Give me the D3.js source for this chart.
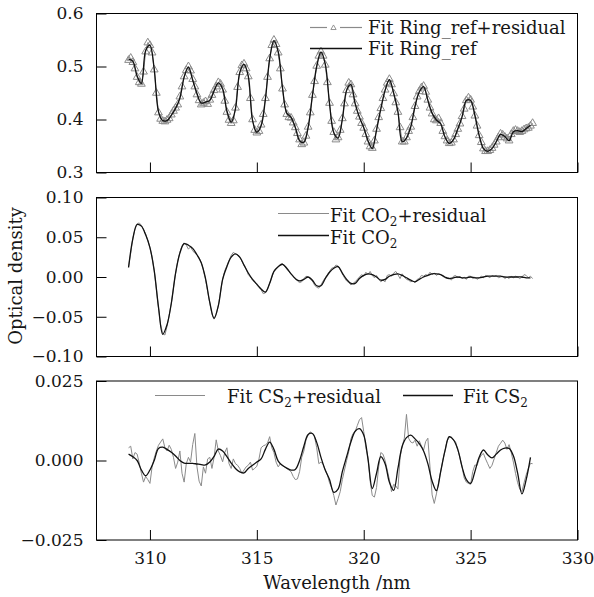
<!DOCTYPE html>
<html>
<head>
<meta charset="utf-8">
<script src="https://cdn.jsdelivr.net/npm/d3@7"></script>
<style>
  body { margin: 0; background: #fff; }
  svg text { font-family: "DejaVu Serif", serif; fill: #161616; }
</style>
</head>
<body>
<svg id="chart" width="594" height="597"></svg>
<script>
// wavelength grids (nm): fine = 0.1 nm steps, coarse = 0.2 nm steps
const wlFine = [
  309.0,309.1,309.2,309.3,309.4,309.5,309.6,309.7,309.8,309.9,
  310.0,310.1,310.2,310.3,310.4,310.5,310.6,310.7,310.8,310.9,
  311.0,311.1,311.2,311.3,311.4,311.5,311.6,311.7,311.8,311.9,
  312.0,312.1,312.2,312.3,312.4,312.5,312.6,312.7,312.8,312.9,
  313.0,313.1,313.2,313.3,313.4,313.5,313.6,313.7,313.8,313.9,
  314.0,314.1,314.2,314.3,314.4,314.5,314.6,314.7,314.8,314.9,
  315.0,315.1,315.2,315.3,315.4,315.5,315.6,315.7,315.8,315.9,
  316.0,316.1,316.2,316.3,316.4,316.5,316.6,316.7,316.8,316.9,
  317.0,317.1,317.2,317.3,317.4,317.5,317.6,317.7,317.8,317.9,
  318.0,318.1,318.2,318.3,318.4,318.5,318.6,318.7,318.8,318.9,
  319.0,319.1,319.2,319.3,319.4,319.5,319.6,319.7,319.8,319.9,
  320.0,320.1,320.2,320.3,320.4,320.5,320.6,320.7,320.8,320.9,
  321.0,321.1,321.2,321.3,321.4,321.5,321.6,321.7,321.8,321.9,
  322.0,322.1,322.2,322.3,322.4,322.5,322.6,322.7,322.8,322.9,
  323.0,323.1,323.2,323.3,323.4,323.5,323.6,323.7,323.8,323.9,
  324.0,324.1,324.2,324.3,324.4,324.5,324.6,324.7,324.8,324.9,
  325.0,325.1,325.2,325.3,325.4,325.5,325.6,325.7,325.8,325.9,
  326.0,326.1,326.2,326.3,326.4,326.5,326.6,326.7,326.8,326.9,
  327.0,327.1,327.2,327.3,327.4,327.5,327.6,327.7,327.8,327.9
];
const wlCoarse = [
  309.0,309.2,309.4,309.6,309.8, 310.0,310.2,310.4,310.6,310.8,
  311.0,311.2,311.4,311.6,311.8, 312.0,312.2,312.4,312.6,312.8,
  313.0,313.2,313.4,313.6,313.8, 314.0,314.2,314.4,314.6,314.8,
  315.0,315.2,315.4,315.6,315.8, 316.0,316.2,316.4,316.6,316.8,
  317.0,317.2,317.4,317.6,317.8, 318.0,318.2,318.4,318.6,318.8,
  319.0,319.2,319.4,319.6,319.8, 320.0,320.2,320.4,320.6,320.8,
  321.0,321.2,321.4,321.6,321.8, 322.0,322.2,322.4,322.6,322.8,
  323.0,323.2,323.4,323.6,323.8, 324.0,324.2,324.4,324.6,324.8,
  325.0,325.2,325.4,325.6,325.8, 326.0,326.2,326.4,326.6,326.8,
  327.0,327.2,327.4,327.6,327.8
];

// --- Ring_ref panel
const ringResid = [
  0.512,0.516,0.508,0.496,0.480,0.470,0.467,0.490,0.528,0.545,
  0.540,0.526,0.494,0.450,0.413,0.401,0.397,0.396,0.399,0.402,
  0.409,0.416,0.422,0.428,0.443,0.462,0.481,0.493,0.500,0.492,
  0.476,0.462,0.447,0.436,0.428,0.431,0.434,0.429,0.437,0.446,
  0.455,0.462,0.470,0.467,0.456,0.435,0.414,0.399,0.393,0.398,
  0.422,0.461,0.489,0.502,0.505,0.496,0.481,0.440,0.400,0.380,
  0.375,0.378,0.390,0.410,0.440,0.480,0.515,0.540,0.550,0.542,
  0.526,0.496,0.458,0.428,0.410,0.404,0.403,0.394,0.385,0.374,
  0.362,0.353,0.356,0.369,0.386,0.413,0.446,0.472,0.501,0.520,
  0.528,0.520,0.503,0.470,0.431,0.397,0.376,0.362,0.366,0.380,
  0.402,0.430,0.455,0.469,0.466,0.447,0.430,0.416,0.405,0.393,
  0.384,0.372,0.358,0.349,0.346,0.360,0.382,0.404,0.421,0.440,
  0.456,0.469,0.476,0.466,0.449,0.432,0.414,0.385,0.358,0.358,
  0.366,0.378,0.386,0.404,0.425,0.443,0.453,0.460,0.463,0.452,
  0.437,0.422,0.411,0.400,0.398,0.402,0.393,0.378,0.368,0.360,
  0.355,0.356,0.362,0.372,0.382,0.392,0.406,0.420,0.436,0.441,
  0.437,0.424,0.407,0.388,0.370,0.357,0.345,0.340,0.340,0.342,
  0.346,0.352,0.358,0.366,0.373,0.371,0.367,0.364,0.360,0.372,
  0.378,0.380,0.378,0.376,0.378,0.381,0.383,0.384,0.388,0.393
];
const ringFit = [
  0.514,0.510,0.482,0.468,0.530, 0.540,0.495,0.415,0.398,0.398,
  0.408,0.421,0.440,0.480,0.499, 0.474,0.449,0.431,0.433,0.436,
  0.454,0.469,0.458,0.416,0.395, 0.420,0.488,0.504,0.482,0.398,
  0.376,0.388,0.438,0.514,0.549, 0.528,0.460,0.412,0.404,0.385,
  0.360,0.357,0.385,0.445,0.500, 0.527,0.505,0.430,0.375,0.365,
  0.400,0.455,0.466,0.430,0.404, 0.385,0.360,0.345,0.380,0.420,
  0.455,0.475,0.450,0.415,0.358, 0.365,0.386,0.425,0.452,0.462,
  0.436,0.412,0.399,0.392,0.367, 0.355,0.362,0.382,0.405,0.436,
  0.436,0.408,0.370,0.345,0.340, 0.345,0.358,0.372,0.368,0.360,
  0.377,0.379,0.377,0.383,0.389
];

// --- CO2 panel
const co2Resid = [
  0.013,0.030,0.049,0.060,0.067,0.068,0.065,0.060,0.054,0.046,
  0.037,0.025,0.008,-0.015,-0.039,-0.060,-0.071,-0.073,-0.062,-0.048,
  -0.033,-0.014,0.005,0.020,0.031,0.039,0.043,0.040,0.035,0.038,
  0.033,0.030,0.028,0.024,0.018,0.009,-0.003,-0.018,-0.033,-0.047,
  -0.053,-0.047,-0.036,-0.019,-0.003,0.008,0.014,0.021,0.027,0.031,
  0.029,0.028,0.025,0.020,0.015,0.010,0.003,0.000,-0.004,-0.006,
  -0.010,-0.013,-0.016,-0.021,-0.020,-0.015,-0.008,0.000,0.007,0.011,
  0.013,0.016,0.017,0.014,0.010,0.007,0.004,0.001,-0.002,-0.005,
  -0.007,-0.006,-0.002,0.001,0.000,-0.003,-0.005,-0.010,-0.013,-0.014,
  -0.010,-0.005,-0.001,0.003,0.007,0.011,0.012,0.015,0.014,0.009,
  0.004,-0.001,-0.005,-0.007,-0.010,-0.008,-0.006,-0.003,0.000,0.003,
  0.001,0.006,0.003,0.007,0.002,-0.001,0.002,-0.003,-0.006,-0.004,
  -0.006,0.002,0.003,0.001,0.005,0.007,0.003,-0.002,0.004,0.000,
  -0.003,-0.004,-0.006,-0.005,-0.007,-0.003,-0.002,0.002,0.001,0.003,
  0.002,0.006,0.003,0.005,0.002,0.004,0.003,0.001,-0.001,-0.002,
  -0.001,-0.004,0.001,0.002,-0.001,0.001,-0.002,0.000,-0.003,0.001,
  0.001,-0.002,0.000,-0.003,-0.001,0.001,-0.001,0.002,0.001,-0.001,
  0.002,0.001,0.002,-0.001,0.000,0.001,-0.002,0.000,-0.002,0.001,
  -0.001,0.001,0.000,-0.002,0.000,0.003,0.002,-0.001,0.001,-0.002
];
const co2Fit = [
  0.012,0.048,0.066,0.064,0.053, 0.037,0.008,-0.038,-0.072,-0.060,
  -0.033,0.005,0.030,0.042,0.040, 0.036,0.028,0.018,-0.002,-0.032,
  -0.052,-0.036,-0.003,0.013,0.025, 0.029,0.025,0.015,0.005,-0.003,
  -0.009,-0.015,-0.019,-0.008,0.007, 0.013,0.016,0.011,0.004,-0.002,
  -0.005,-0.003,0.000,-0.004,-0.011, -0.011,-0.002,0.006,0.011,0.013,
  0.005,-0.003,-0.008,-0.008,-0.002, 0.002,0.004,0.003,0.000,-0.004,
  -0.003,0.001,0.003,0.004,0.002, -0.001,-0.004,-0.006,-0.003,0.000,
  0.002,0.004,0.004,0.003,0.000, -0.002,-0.001,0.000,-0.001,-0.001,
  0.000,-0.001,-0.001,0.000,0.001, 0.001,0.001,0.001,0.000,0.000,
  0.000,0.000,0.000,-0.001,-0.001
];

// --- CS2 panel
const cs2Resid = [
  0.0040,0.0045,0.0005,0.0025,0.0020,-0.0008,-0.0040,-0.0068,-0.0050,-0.0060,
  -0.0072,-0.0020,0.0008,0.0030,0.0048,0.0058,0.0068,0.0040,0.0030,0.0048,
  0.0035,0.0010,-0.0025,-0.0005,0.0030,-0.0040,-0.0068,-0.0010,0.0010,-0.0005,
  0.0050,0.0085,-0.0020,-0.0065,-0.0080,-0.0020,-0.0040,0.0005,0.0010,-0.0025,
  0.0010,0.0065,0.0030,0.0015,-0.0004,0.0025,0.0040,-0.0010,-0.0025,0.0005,
  -0.0010,-0.0015,-0.0025,-0.0040,-0.0030,-0.0020,-0.0015,-0.0005,-0.0030,-0.0025,
  -0.0018,0.0005,0.0040,0.0046,0.0049,0.0055,0.0075,0.0040,0.0025,-0.0005,
  -0.0020,-0.0010,-0.0015,-0.0020,-0.0025,-0.0030,-0.0035,-0.0050,-0.0060,-0.0058,
  -0.0035,0.0010,0.0030,0.0065,0.0080,0.0090,0.0085,0.0075,0.0040,-0.0010,
  -0.0005,-0.0012,-0.0030,-0.0045,-0.0070,-0.0085,-0.0110,-0.0140,-0.0120,-0.0098,
  -0.0060,-0.0030,0.0000,0.0028,0.0068,0.0085,0.0091,0.0110,0.0128,0.0135,
  0.0091,0.0040,0.0010,-0.0065,-0.0110,-0.0115,-0.0085,-0.0020,0.0025,0.0020,
  0.0000,-0.0030,-0.0060,-0.0098,-0.0075,-0.0080,-0.0090,0.0010,0.0045,0.0070,
  0.0145,0.0070,0.0058,0.0055,0.0064,0.0045,0.0062,0.0045,0.0033,0.0060,
  0.0070,-0.0020,-0.0108,-0.0135,-0.0105,-0.0070,-0.0035,0.0000,0.0030,0.0062,
  0.0072,0.0073,0.0065,0.0058,0.0033,0.0010,-0.0020,-0.0055,-0.0068,-0.0072,
  -0.0075,-0.0035,-0.0014,-0.0016,0.0005,0.0017,0.0022,0.0005,-0.0010,-0.0025,
  -0.0015,0.0005,0.0025,0.0045,0.0054,0.0064,0.0055,0.0035,0.0050,0.0025,
  -0.0005,-0.0040,-0.0070,-0.0090,-0.0098,-0.0070,-0.0045,-0.0025,-0.0009,-0.0010
];
const cs2Fit = [
  0.0020,0.0012,0.0000,-0.0030,-0.0048, -0.0030,0.0000,0.0038,0.0042,0.0035,
  0.0026,0.0014,0.0000,-0.0008,-0.0009, -0.0009,-0.0011,-0.0013,-0.0014,-0.0005,
  0.0013,0.0036,0.0030,0.0012,-0.0008, -0.0025,-0.0036,-0.0039,-0.0025,-0.0015,
  -0.0005,0.0005,0.0035,0.0058,0.0035, -0.0002,-0.0016,-0.0024,-0.0030,-0.0028,
  0.0000,0.0045,0.0082,0.0085,0.0057, 0.0010,-0.0030,-0.0060,-0.0100,-0.0090,
  -0.0035,0.0012,0.0058,0.0092,0.0100, 0.0080,0.0004,-0.0088,-0.0040,0.0012,
  -0.0010,-0.0068,-0.0094,-0.0025,0.0045, 0.0072,0.0080,0.0068,0.0053,0.0030,
  -0.0010,-0.0065,-0.0095,-0.0035,0.0030, 0.0075,0.0065,0.0035,-0.0020,-0.0060,
  -0.0072,-0.0035,0.0010,0.0033,0.0018, 0.0008,0.0020,0.0033,0.0039,0.0038,
  0.0015,-0.0040,-0.0105,-0.0060,0.0010
];

// ticks
const xTicks = [310, 315, 320, 325, 330];
const ringTicks = [0.3, 0.4, 0.5, 0.6];
const co2Ticks = [-0.10, -0.05, 0, 0.05, 0.10];
const cs2Ticks = [-0.025, 0, 0.025];

// --- layout
const svg = d3.select("#chart");
const L = 96.5, R = 577.5, PH = 159;
const GRAY = "#8a8a8a", BLACK = "#111";
const TICK_FS = 17, LEG_FS = 18;

const x = d3.scaleLinear().domain([307.5, 330]).range([L, R]);

const panels = [
  { top: 13.5, dom: [0.3, 0.6], ticks: ringTicks, fmt: d3.format(".1f"),
    resid: ringResid, fit: ringFit, markers: true },
  { top: 197.5, dom: [-0.1, 0.1], ticks: co2Ticks, fmt: d3.format(".2f"),
    resid: co2Resid, fit: co2Fit, markers: false },
  { top: 381, dom: [-0.025, 0.025], ticks: cs2Ticks, fmt: d3.format(".3f"),
    resid: cs2Resid, fit: cs2Fit, markers: false, xLabels: true }
];

const tri = d3.symbol(d3.symbolTriangle, 26);

panels.forEach(p => {
  const y = d3.scaleLinear().domain(p.dom).range([p.top + PH, p.top]);
  const g = svg.append("g");

  // y axis, inward ticks
  g.append("g").attr("transform", `translate(${L},0)`)
    .call(d3.axisLeft(y).tickValues(p.ticks).tickFormat(p.fmt).tickSize(-10).tickPadding(13))
    .call(a => a.select(".domain").remove())
    .call(a => a.selectAll("line").attr("stroke", "#000"))
    .call(a => a.selectAll("text").attr("font-size", TICK_FS).attr("font-family", null).attr("fill", null));

  // x axis, inward ticks
  g.append("g").attr("transform", `translate(0,${p.top + PH})`)
    .call(d3.axisBottom(x).tickValues(xTicks).tickSize(-10).tickPadding(12)
      .tickFormat(p.xLabels ? d3.format("d") : ""))
    .call(a => a.select(".domain").remove())
    .call(a => a.selectAll("line").attr("stroke", "#000"))
    .call(a => a.selectAll("text").attr("font-size", TICK_FS).attr("font-family", null).attr("fill", null));

  const clip = "clip" + Math.round(p.top);
  svg.append("clipPath").attr("id", clip).append("rect")
    .attr("x", L).attr("y", p.top).attr("width", R - L).attr("height", PH);
  const plot = g.append("g").attr("clip-path", `url(#${clip})`);

  const resid = wlFine.map((w, i) => [w, p.resid[i]]);
  const fit = wlCoarse.map((w, i) => [w, p.fit[i]]);

  plot.append("path").datum(resid)
    .attr("fill", "none").attr("stroke", GRAY).attr("stroke-width", 1)
    .attr("d", d3.line().x(d => x(d[0])).y(d => y(d[1])));

  if (p.markers) {
    plot.selectAll("path.tri").data(resid).join("path").attr("class", "tri")
      .attr("transform", d => `translate(${x(d[0])},${y(d[1])})`)
      .attr("d", tri).attr("fill", "none").attr("stroke", GRAY).attr("stroke-width", 1);
  }

  plot.append("path").datum(fit)
    .attr("fill", "none").attr("stroke", BLACK).attr("stroke-width", 1.3)
    .attr("d", d3.line().x(d => x(d[0])).y(d => y(d[1])).curve(d3.curveCatmullRom));

  g.append("rect").attr("x", L).attr("y", p.top).attr("width", R - L).attr("height", PH)
    .attr("fill", "none").attr("stroke", "#000").attr("stroke-width", 1);
});

// --- legends
function legendText(xp, yp, parts) {
  const t = svg.append("text").attr("x", xp).attr("y", yp).attr("font-size", LEG_FS);
  parts.forEach((s, i) => {
    if (s === "2") {
      t.append("tspan").attr("font-size", 12).attr("dy", 4).text("2");
    } else {
      t.append("tspan").attr("dy", i ? -4 : 0).text(s);
    }
  });
}
function legendLine(x1, x2, yp, color) {
  svg.append("line").attr("x1", x1).attr("x2", x2).attr("y1", yp).attr("y2", yp)
    .attr("stroke", color).attr("stroke-width", color === GRAY ? 1.2 : 1.3);
}

// top
legendLine(310, 327, 27.5, GRAY);
legendLine(340, 362, 27.5, GRAY);
svg.append("path").attr("transform", "translate(333.5,28)")
  .attr("d", d3.symbol(d3.symbolTriangle, 12)()).attr("fill", "#fff").attr("stroke", GRAY).attr("stroke-width", 0.9);
legendText(368, 34, ["Fit Ring_ref+residual"]);
legendLine(310, 362, 48.5, BLACK);
legendText(368, 54.5, ["Fit Ring_ref"]);

// middle
legendLine(278, 329, 213.5, GRAY);
legendText(330, 221.5, ["Fit CO", "2", "+residual"]);
legendLine(278, 329, 235.5, BLACK);
legendText(330, 243.5, ["Fit CO", "2"]);

// bottom
legendLine(155, 205, 395.5, GRAY);
legendText(227, 402.5, ["Fit CS", "2", "+residual"]);
legendLine(403, 453, 395.5, BLACK);
legendText(463, 402.5, ["Fit CS", "2"]);

// --- axis titles
svg.append("text").attr("x", (L + R) / 2).attr("y", 589).attr("text-anchor", "middle")
  .attr("font-size", 18).text("Wavelength /nm");
svg.append("text").attr("transform", "translate(22,276) rotate(-90)").attr("text-anchor", "middle")
  .attr("font-size", 18).text("Optical density");
</script>
</body>
</html>
